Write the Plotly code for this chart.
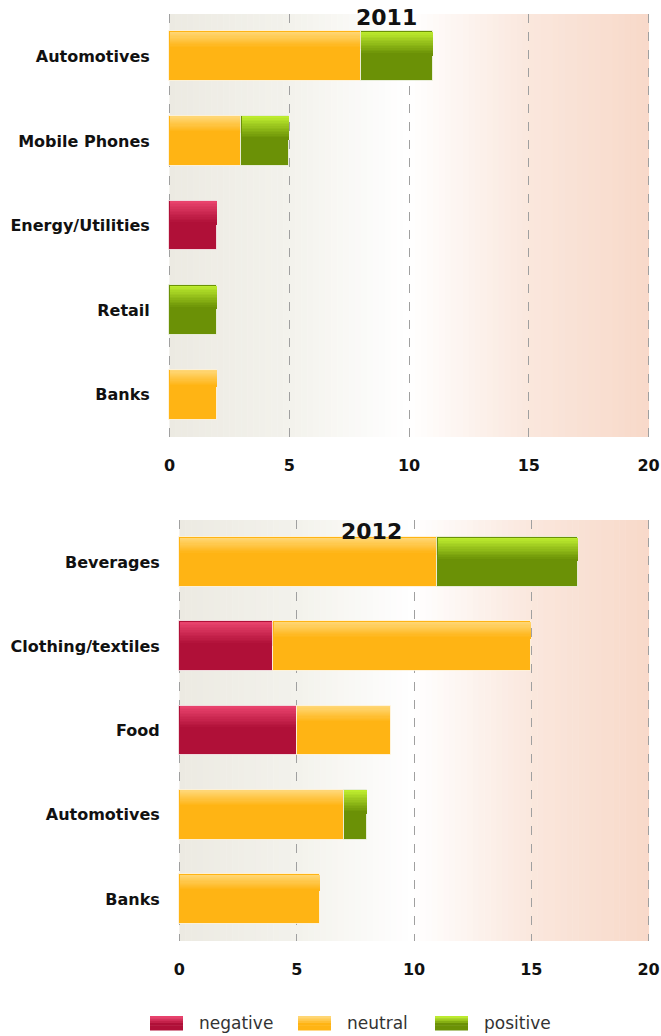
import plotly.graph_objects as go

# ---- data -------------------------------------------------------------
cats_2011 = ["Automotives", "Mobile Phones", "Energy/Utilities", "Retail", "Banks"]
neg_2011 = [0, 0, 2, 0, 0]
neu_2011 = [8, 3, 0, 0, 2]
pos_2011 = [3, 2, 0, 2, 0]

cats_2012 = ["Beverages", "Clothing/textiles", "Food", "Automotives", "Banks"]
neg_2012 = [0, 4, 5, 0, 0]
neu_2012 = [11, 11, 4, 7, 6]
pos_2012 = [6, 0, 0, 1, 0]

x_ticks = [0, 5, 10, 15, 20]

# ---- styling ------------------------------------------------------------
FONT = "DejaVu Sans"
W, H = 661, 1036
BAR_W = 0.59

# name -> (main colour, highlight colour, highlight fraction of bar height)
SERIES = {
    "negative": ((176, 16, 56), (232, 66, 108), 0.45),
    "neutral": ((255, 180, 20), (255, 214, 115), 0.32),
    "positive": ((107, 145, 6), (188, 235, 46), 0.45),
}

BG_STOPS = [(0, (236, 234, 226)), (5, (243, 242, 236)), (10, (255, 255, 255)),
            (15, (250, 231, 221)), (20, (248, 217, 201))]


def rgb(c):
    return "rgb(%d,%d,%d)" % tuple(int(round(v)) for v in c)


def mix(a, b, t):
    return tuple(a[i] + (b[i] - a[i]) * t for i in range(3))


def bg_color(x):
    for (x0, c0), (x1, c1) in zip(BG_STOPS[:-1], BG_STOPS[1:]):
        if x0 <= x <= x1:
            return mix(c0, c1, (x - x0) / (x1 - x0))
    return BG_STOPS[-1][1]


def px_x(p):
    return p / W


def px_y(p):
    return 1 - p / H


fig = go.Figure()

panels = [
    ("x", "y", cats_2011, {"negative": neg_2011, "neutral": neu_2011, "positive": pos_2011}),
    ("x2", "y2", cats_2012, {"negative": neg_2012, "neutral": neu_2012, "positive": pos_2012}),
]

N_STRIPS = 14
for xa, ya, cats, vals in panels:
    pos = list(range(len(cats)))
    base = [0] * len(cats)
    for name in ["negative", "neutral", "positive"]:
        main, light, frac = SERIES[name]
        v = vals[name]
        xs = [val if val > 0 else None for val in v]
        b = list(base)
        fig.add_trace(go.Bar(
            x=xs, y=pos, base=b, orientation="h", width=BAR_W,
            marker=dict(color=rgb(main), line=dict(color="rgba(255,255,255,0.7)", width=1)),
            name=name, showlegend=False, xaxis=xa, yaxis=ya, hoverinfo="skip",
        ))
        # soft highlight along the upper edge of each segment
        sw = BAR_W * frac / N_STRIPS
        for k in range(N_STRIPS):
            t = k / (N_STRIPS - 1)
            fig.add_trace(go.Bar(
                x=[val - 0.03 if val else None for val in xs],
                y=pos, base=[bb + 0.015 for bb in b], orientation="h",
                width=sw * 1.8, offset=-BAR_W / 2 + 0.006 + k * sw,
                marker=dict(color=rgb(mix(light, main, t)), line=dict(width=0)),
                showlegend=False, xaxis=xa, yaxis=ya, hoverinfo="skip",
            ))
        base = [base[i] + v[i] for i in range(len(cats))]

# background gradient behind the grid
shapes = []
NB = 80
for xr, yr in [("x", "y domain"), ("x2", "y2 domain")]:
    for i in range(NB):
        x0 = 20 * i / NB
        x1 = 20 * (i + 1) / NB
        shapes.append(dict(type="rect", xref=xr, yref=yr, x0=x0, x1=x1 + 0.02, y0=0, y1=1,
                           fillcolor=rgb(bg_color((x0 + x1) / 2)), line=dict(width=0),
                           layer="below"))

annotations = [
    dict(text="2011", x=px_x(387), y=px_y(17), xref="paper", yref="paper",
         xanchor="center", yanchor="middle", showarrow=False,
         font=dict(family=FONT, size=22, color="#111", weight="bold")),
    dict(text="2012", x=px_x(371), y=px_y(531), xref="paper", yref="paper",
         xanchor="center", yanchor="middle", showarrow=False,
         font=dict(family=FONT, size=22, color="#111", weight="bold")),
]

# legend: swatch + label along the bottom
legend_x = {"negative": 150, "neutral": 298, "positive": 435}
LEG_Y = 1023
for name, lx in legend_x.items():
    main, light, _ = SERIES[name]
    steps = 6
    for k in range(steps):
        y0 = LEG_Y - 7 + k * 14 / steps
        y1 = LEG_Y - 7 + (k + 1) * 14 / steps
        c = mix(light, main, min(1.0, k / (steps * 0.5)))
        shapes.append(dict(type="rect", xref="paper", yref="paper",
                           x0=px_x(lx), x1=px_x(lx + 33), y0=px_y(y1 + 0.5), y1=px_y(y0),
                           fillcolor=rgb(c), line=dict(width=0)))
    annotations.append(dict(text=name, x=px_x(lx + 47), y=px_y(LEG_Y), xref="paper",
                            yref="paper", xanchor="left", yanchor="middle", showarrow=False,
                            font=dict(family=FONT, size=17, color="#333")))

axis_x = dict(range=[-0.06, 20.06], tickvals=x_ticks, showgrid=True, gridcolor="#a0a0a0",
              griddash="dash", gridwidth=1, zeroline=False, showline=False,
              ticks="outside", ticklen=14, tickcolor="rgba(0,0,0,0)",
              tickfont=dict(family=FONT, size=16, color="#111", weight="bold"),
              fixedrange=True, automargin=False)
axis_y = dict(range=[4.5, -0.5], tickvals=list(range(5)), showgrid=False, zeroline=False,
              showline=False, ticks="outside", ticklen=14, tickcolor="rgba(0,0,0,0)",
              tickfont=dict(family=FONT, size=16, color="#111", weight="bold"),
              fixedrange=True, automargin=False)

fig.update_layout(
    width=W, height=H, margin=dict(l=0, r=0, t=0, b=0),
    paper_bgcolor="white", plot_bgcolor="rgba(0,0,0,0)",
    barmode="overlay", bargap=0,
    xaxis=dict(axis_x, domain=[px_x(168), px_x(650)], anchor="y"),
    yaxis=dict(axis_y, domain=[px_y(437), px_y(14)], anchor="x", ticktext=cats_2011),
    xaxis2=dict(axis_x, domain=[px_x(178), px_x(650)], anchor="y2"),
    yaxis2=dict(axis_y, domain=[px_y(941), px_y(520)], anchor="x2", ticktext=cats_2012),
    shapes=shapes,
    showlegend=False,
    annotations=annotations,
)

fig.write_html("out.html")
